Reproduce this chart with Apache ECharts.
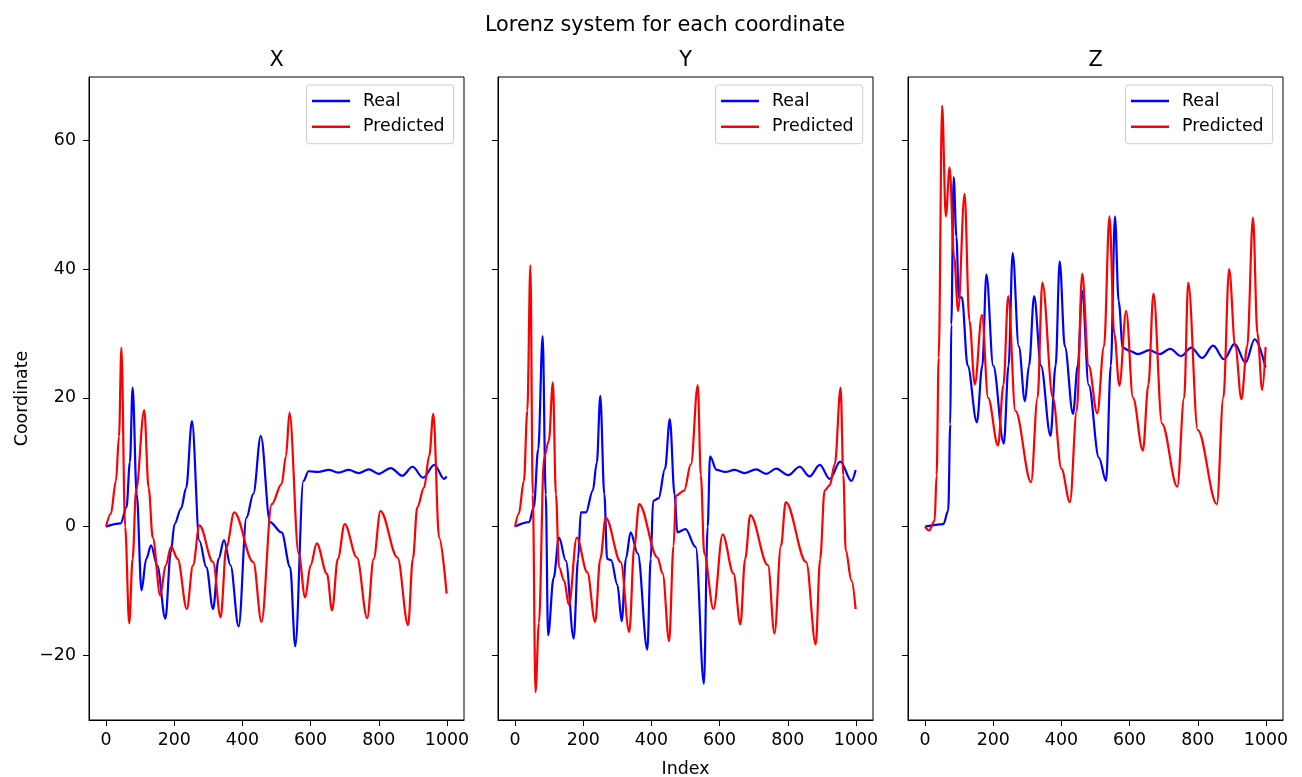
<!DOCTYPE html>
<html>
<head>
<meta charset="utf-8">
<title>Lorenz system for each coordinate</title>
<script src="https://cdn.jsdelivr.net/npm/echarts@6/dist/echarts.min.js"></script>
<style>
  html, body { margin: 0; padding: 0; background: #fff; }
  #chart { width: 1302px; height: 777px; }
</style>
</head>
<body>
<div id="chart"></div>
<script>
// values, [index, value]
var xReal = [[0,0],[43,0.5],[60,3],[70,10],[78,21.6],[90,5],[104,-9.9],[118,-5],[132,-2.9],[150,-6],[174,-14.3],[190,-4],[201,0.4],[220,2.8],[235,6],[252,16.4],[274,-2.2],[294,-6.3],[314,-12.8],[330,-5],[346,-2.1],[365,-6],[389,-15.5],[412,1.4],[432,5.1],[454,14.1],[481,0.7],[515,-0.9],[540,-6.3],[555,-18.6],[579,7.1],[594,8.6],[623,8.5],[653,8.8],[682,8.4],[712,8.8],[741,8.3],[771,8.9],[800,8.2],[835,9.1],[869,7.9],[899,9.3],[930,7.6],[963,9.6],[992,7.4],[999,7.8]];
var xPred = [[0,0],[14,2],[29,7.1],[38,14],[45,27.8],[56,0],[68,-15],[78,-5],[88,5.6],[112,18.1],[125,6],[137,-1.7],[159,-10.7],[175,-6],[191,-3.1],[210,-5],[237,-12.8],[255,-6],[274,0.2],[314,-5.5],[336,-14.1],[353,-3.2],[376,2.2],[432,-5.5],[456,-14.8],[486,3.5],[515,6.6],[528,11],[538,17.7],[565,-4.2],[584,-11],[600,-6],[618,-2.6],[648,-7.3],[663,-13],[680,-5],[700,0.4],[736,-4.8],[766,-14.2],[785,-5],[805,2.4],[855,-4.8],[886,-15.3],[900,-5],[913,3],[933,6.1],[948,11],[960,17.5],[977,-1.7],[999,-10.4]];
var yReal = [[0,0],[41,0.7],[55,3],[68,12],[81,29.6],[90,5],[97,-16.9],[113,-8],[129,-1.7],[149,-5.3],[172,-17.4],[185,-5],[193,2.2],[208,2.2],[228,5.6],[240,10],[250,20.3],[262,5],[270,-5],[282,-5.2],[300,-9],[313,-14.7],[325,-5],[339,-0.9],[360,-4.2],[388,-19.1],[398,-5],[405,4],[421,4.4],[440,9],[454,16.7],[468,5],[476,-0.9],[500,-0.4],[530,-3.2],[554,-24.4],[565,0],[572,10.9],[591,8.8],[617,8.5],[644,8.8],[673,8.3],[707,8.9],[737,8.2],[766,9],[801,8],[835,9.3],[864,7.8],[894,9.6],[923,7.4],[954,10.1],[987,7.1],[999,8.8]];
var yPred = [[0,0],[11,2],[26,7.1],[36,18],[45,40.6],[52,5],[60,-25.7],[70,-15],[85,10.7],[99,13.3],[111,22.4],[120,5],[129,-6.3],[144,-8.4],[158,-12.2],[181,-1.7],[212,-7.1],[235,-14.8],[250,-5],[266,1.4],[310,-5.5],[335,-16.4],[350,-3],[364,3.5],[418,-4.8],[433,-7.3],[452,-17.8],[465,-3],[472,4.8],[496,5.6],[516,9.7],[536,22],[545,8],[555,-4.2],[582,-12.8],[609,-1.2],[641,-7.3],[661,-15.2],[675,-5],[690,1.8],[742,-6],[761,-16.6],[780,-3],[794,3.8],[854,-5.5],[882,-18.3],[895,-5],[908,5.6],[923,6.4],[938,9.7],[955,21.6],[963,8],[970,-3.7],[987,-8.4],[999,-12.8]];
var zReal = [[0,0],[54,0.4],[68,2.5],[74,15.9],[77,31.4],[84,54.3],[92,45],[99,35.6],[108,35.6],[125,25],[152,16.2],[168,25],[180,39.2],[200,25],[231,12.9],[245,25],[257,42.5],[275,28],[293,19.5],[305,25],[320,35.8],[340,25],[368,14.1],[383,25],[395,41.2],[410,28],[434,17.5],[448,25],[461,36.6],[480,22],[510,10.7],[531,7.1],[545,25],[557,48.2],[568,35],[580,27.8],[600,27.3],[624,26.8],[658,27.4],[688,26.8],[719,27.6],[751,26.5],[781,27.8],[813,26.2],[845,28.1],[877,26],[908,28.4],[940,25.5],[967,29.1],[999,24.7]];
var zPred = [[0,0],[12,-0.6],[28,0.9],[34,8],[40,26.2],[50,65.4],[61,48.2],[72,55.8],[85,42],[97,33.5],[116,51.7],[130,32],[146,22.1],[167,32.9],[185,20],[214,12.6],[230,22],[244,35.8],[265,18],[311,6.9],[330,20],[344,37.9],[375,20],[400,9],[425,3.8],[445,18],[461,39.3],[480,25],[505,17.6],[525,28],[541,48.2],[555,30],[570,21.9],[590,33.5],[610,20],[639,11.8],[655,22],[670,36.2],[695,16],[740,6.2],[760,20],[772,37.9],[800,15],[856,3.5],[875,20],[892,40],[910,28],[928,19.8],[945,28],[962,48],[975,30],[989,21.2],[999,27.9]];

var panelTitles = ['X', 'Y', 'Z'];
var xTicks = [0, 200, 400, 600, 800, 1000];
var yTicks = [-20, 0, 20, 40, 60];

var font = 'DejaVu Sans';
var small = 17.4;   // 10pt
var large = 20.8;   // 12pt
var panelLeft = [89, 498, 908];
var panelWidth = 375;

function fmt(v) {
  return v < 0 ? '\u2212' + Math.abs(v) : String(v);
}

var chart = echarts.init(document.getElementById('chart'));

var grids = [], xAxes = [], yAxes = [], legends = [], titles = [], series = [];
var pairs = [[xReal, xPred], [yReal, yPred], [zReal, zPred]];

titles.push({
  text: 'Lorenz system for each coordinate',
  left: 665, top: 15, textAlign: 'center', padding: 0,
  textStyle: { fontFamily: font, fontSize: large, fontWeight: 'normal', color: '#000' }
});

for (var i = 0; i < 3; i++) {
  grids.push({
    left: panelLeft[i], top: 77, width: panelWidth, height: 643,
    outerBoundsMode: 'none',
    show: true, borderColor: '#000', borderWidth: 1, backgroundColor: 'transparent'
  });
  titles.push({
    text: panelTitles[i],
    left: panelLeft[i] + panelWidth / 2, top: 50, textAlign: 'center', padding: 0,
    textStyle: { fontFamily: font, fontSize: large, fontWeight: 'normal', color: '#000' }
  });
  xAxes.push({
    type: 'value', gridIndex: i, min: -50, max: 1050,
    name: i === 1 ? 'Index' : '', nameLocation: 'middle', nameGap: 41,
    nameTextStyle: { fontFamily: font, fontSize: small, color: '#000' },
    axisLine: { show: true, onZero: false, lineStyle: { color: '#000', width: 1 } },
    axisTick: { show: true, length: 6, customValues: xTicks, lineStyle: { color: '#000' } },
    axisLabel: { customValues: xTicks, margin: 12, formatter: fmt,
      fontFamily: font, fontSize: small, color: '#000' },
    splitLine: { show: false }
  });
  yAxes.push({
    type: 'value', gridIndex: i, min: -30.04, max: 69.84,
    name: i === 0 ? 'Coordinate' : '', nameLocation: 'middle', nameGap: 58,
    nameTextStyle: { fontFamily: font, fontSize: small, color: '#000' },
    axisLine: { show: true, onZero: false, lineStyle: { color: '#000', width: 1 } },
    axisTick: { show: true, length: 6, customValues: yTicks, lineStyle: { color: '#000' } },
    axisLabel: { show: i === 0, customValues: yTicks, margin: 13, formatter: fmt,
      fontFamily: font, fontSize: small, color: '#000' },
    splitLine: { show: false }
  });
  legends.push({
    data: ['Real', 'Predicted'],
    orient: 'vertical',
    left: panelLeft[i] + 217.5, top: 85,
    padding: [7.5, 9, 8.5, 5.5],
    icon: 'rect',
    itemGap: 8.7, itemWidth: 38, itemHeight: 2.4,
    backgroundColor: '#fff', borderColor: '#ccc', borderWidth: 1, borderRadius: 3,
    textStyle: { fontFamily: font, fontSize: small, lineHeight: 17, color: '#000', padding: [0, 0, 0, 8] }
  });
  series.push({
    name: 'Real', type: 'line', xAxisIndex: i, yAxisIndex: i,
    data: pairs[i][0], showSymbol: false, symbol: 'none',
    smooth: 0.35, smoothMonotone: 'x',
    lineStyle: { color: '#0000ff', width: 2.2 }, itemStyle: { color: '#0000ff' }
  });
  series.push({
    name: 'Predicted', type: 'line', xAxisIndex: i, yAxisIndex: i,
    data: pairs[i][1], showSymbol: false, symbol: 'none',
    smooth: 0.35, smoothMonotone: 'x',
    lineStyle: { color: '#ff0000', width: 2.2 }, itemStyle: { color: '#ff0000' }
  });
}

chart.setOption({
  animation: false,
  title: titles,
  grid: grids,
  xAxis: xAxes,
  yAxis: yAxes,
  legend: legends,
  series: series
});
</script>
</body>
</html>
